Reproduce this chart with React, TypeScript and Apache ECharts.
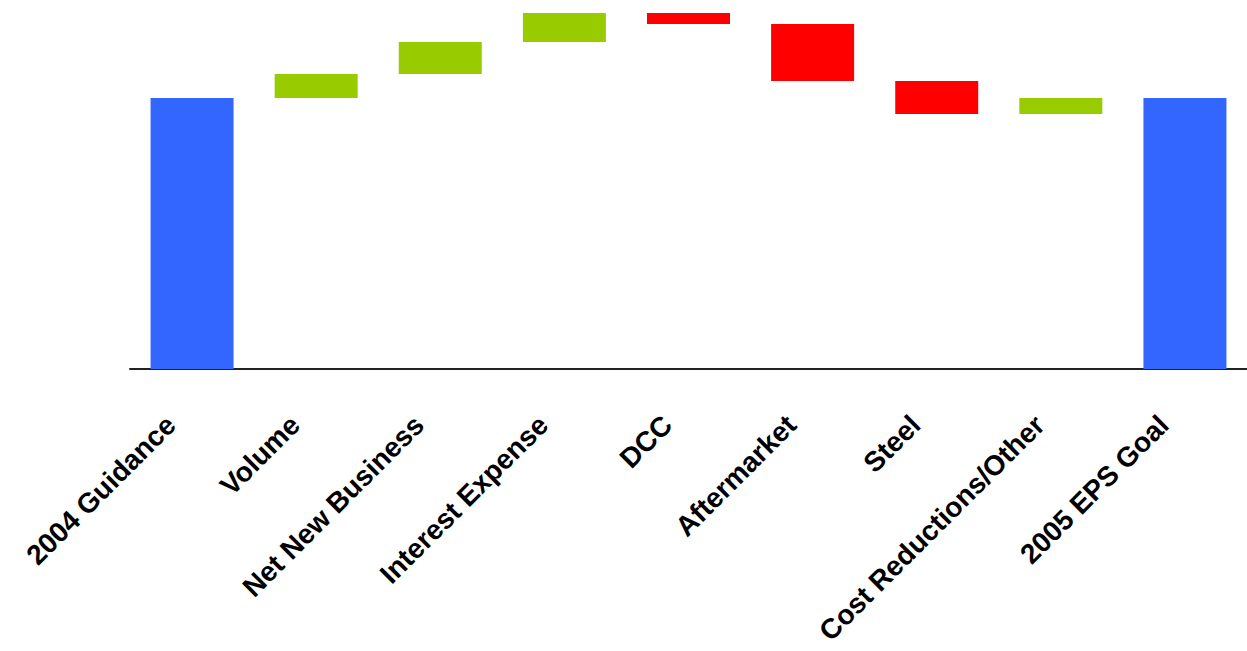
import React, { useEffect, useRef } from "react";
import * as echarts from "echarts";

const categories = [
  "2004 Guidance",
  "Volume",
  "Net New Business",
  "Interest Expense",
  "DCC",
  "Aftermarket",
  "Steel",
  "Cost Reductions/Other",
  "2005 EPS Goal",
];
const startValue = 271;
const changes = [24, 32, 29, -11, -57, -33, 16];
const endValue = 271;

const BLUE = "#3366FF";
const GREEN = "#99CC00";
const RED = "#FF0000";

export default function App() {
  const ref = useRef<HTMLDivElement>(null);
  useEffect(() => {
    if (!ref.current) return;
    const chart = echarts.init(ref.current, undefined, { renderer: "svg" });
    const base: number[] = [0];
    const size: any[] = [{ value: startValue, itemStyle: { color: BLUE } }];
    let run = startValue;
    changes.forEach((c) => {
      const next = run + c;
      base.push(Math.min(run, next));
      size.push({ value: Math.abs(c), itemStyle: { color: c >= 0 ? GREEN : RED } });
      run = next;
    });
    base.push(0);
    size.push({ value: endValue, itemStyle: { color: BLUE } });

    chart.setOption({
      animation: false,
      grid: { left: 130, right: 0, top: 0, height: 369, containLabel: false },
      xAxis: {
        type: "category",
        data: categories,
        axisLine: { show: true, lineStyle: { color: "#222", width: 2 } },
        axisTick: { show: false },
        axisLabel: {
          interval: 0,
          rotate: 45,
          margin: 30,
          padding: [0, 30, 0, 0],
          lineHeight: 28,
          color: "#000",
          fontSize: 28,
          fontWeight: "bold",
          fontFamily: "Liberation Sans, Arial, sans-serif",
        },
      },
      yAxis: { type: "value", min: 0, max: 369, show: false, splitLine: { show: false } },
      series: [
        {
          type: "bar",
          stack: "w",
          data: base,
          itemStyle: { color: "transparent" },
          barWidth: 83,
          silent: true,
        },
        {
          type: "bar",
          stack: "w",
          data: size,
          barWidth: 83,
        },
      ],
    });
    return () => chart.dispose();
  }, []);
  return <div ref={ref} style={{ position: "absolute", left: 0, top: 0, width: 1247, height: 651 }} />;
}
